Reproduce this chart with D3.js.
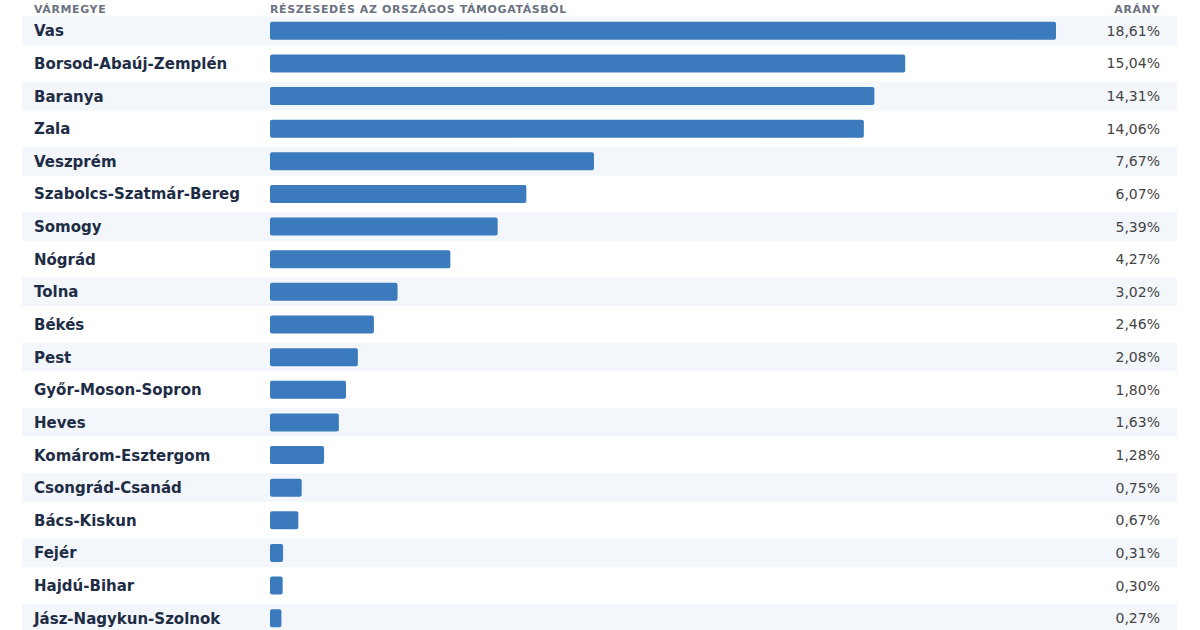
<!DOCTYPE html>
<html><head><meta charset="utf-8">
<script src="https://cdn.jsdelivr.net/npm/d3@7"></script>
<style>body{margin:0;background:#fff}</style>
</head><body>
<svg width="1200" height="630"></svg>
<script>
const counties = ['Vas','Borsod-Abaúj-Zemplén','Baranya','Zala','Veszprém','Szabolcs-Szatmár-Bereg','Somogy','Nógrád','Tolna','Békés','Pest','Győr-Moson-Sopron','Heves','Komárom-Esztergom','Csongrád-Csanád','Bács-Kiskun','Fejér','Hajdú-Bihar','Jász-Nagykun-Szolnok'];
const shares = [18.61,15.04,14.31,14.06,7.67,6.07,5.39,4.27,3.02,2.46,2.08,1.80,1.63,1.28,0.75,0.67,0.31,0.30,0.27];
const headers = ['VÁRMEGYE','RÉSZESEDÉS AZ ORSZÁGOS TÁMOGATÁSBÓL','ARÁNY'];

const svg = d3.select('svg');
const font = 'DejaVu Sans, sans-serif';

const y = d3.scaleBand().domain(counties).range([14.5, 634.5]).paddingInner(0);
const x = d3.scaleLinear().domain([0, 18.61]).range([270, 1056]);

svg.append('g').selectAll('text').data(headers).join('text')
  .attr('x', (d,i) => [34, 270, 1160][i])
  .attr('y', 13)
  .attr('text-anchor', (d,i) => i === 2 ? 'end' : 'start')
  .attr('font-family', font).attr('font-size', 11).attr('font-weight', 'bold')
  .attr('letter-spacing', 0.6).attr('fill', '#6b7280')
  .text(d => d);

const row = svg.append('g').selectAll('g').data(counties).join('g')
  .attr('transform', d => `translate(0,${y(d)})`);

row.filter((d,i) => i % 2 === 0).append('rect')
  .attr('x', 22).attr('y', 2).attr('width', 1155).attr('height', y.bandwidth() - 4)
  .attr('fill', '#f3f6fa');

row.append('rect')
  .attr('x', x(0)).attr('y', y.bandwidth()/2 - 9)
  .attr('width', (d,i) => x(shares[i]) - x(0)).attr('height', 18)
  .attr('rx', 2).attr('fill', '#3a7abd');

row.append('text')
  .attr('x', 34).attr('y', y.bandwidth()/2 + 5.5)
  .attr('font-family', font).attr('font-size', 15).attr('font-weight', 'bold')
  .attr('fill', '#1e2d45').text(d => d);

row.append('text')
  .attr('x', 1160).attr('y', y.bandwidth()/2 + 5)
  .attr('text-anchor', 'end')
  .attr('font-family', font).attr('font-size', 14)
  .attr('fill', '#444').text((d,i) => shares[i].toFixed(2).replace('.', ',') + '%');
</script>
</body></html>
